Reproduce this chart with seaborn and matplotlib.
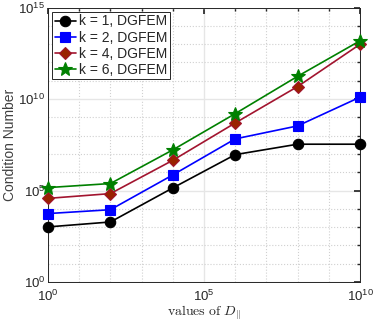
import matplotlib
matplotlib.use("Agg")
import matplotlib.pyplot as plt
import seaborn as sns
import numpy as np
import pandas as pd
from matplotlib.ticker import LogLocator, NullFormatter

D_values = [1e0, 1e2, 1e4, 1e6, 1e8, 1e10]
labels = ["k = 1, DGFEM", "k = 2, DGFEM", "k = 4, DGFEM", "k = 6, DGFEM"]
log_k1 = [3.01, 3.28, 5.14, 6.96, 7.53, 7.53]
log_k2 = [3.74, 3.95, 5.85, 7.82, 8.53, 10.10]
log_k4 = [4.57, 4.83, 6.65, 8.69, 10.68, 12.99]
log_k6 = [5.16, 5.38, 7.22, 9.20, 11.24, 13.18]
series = [log_k1, log_k2, log_k4, log_k6]

sns.set_theme(style="white")
plt.rcParams['font.family'] = ['Liberation Sans', 'DejaVu Sans']
plt.rcParams['mathtext.fontset'] = 'cm'

fig = plt.figure(figsize=(3.74, 3.24), dpi=100)
ax = fig.add_axes([48/374, 1 - 282/324, 312/374, 274.5/324])

line_colors = ["black", "blue", "#A2142F", "green"]
face_colors = ["black", "blue", "#992200", "green"]
markers = ["o", "s", "D", "*"]
msizes = [7.5, 6.5, 6.5, 10]

for lab, vals, lc, fc, m, ms in zip(labels, series, line_colors, face_colors, markers, msizes):
    df = pd.DataFrame({"D": D_values, "cond": [10 ** v for v in vals]})
    sns.lineplot(data=df, x="D", y="cond", ax=ax, color=lc, marker=m,
                 markersize=ms, markerfacecolor=fc, markeredgecolor=lc,
                 markeredgewidth=0.8, linewidth=1.2, label=lab, clip_on=False,
                 zorder=3)

ax.set_xscale("log")
ax.set_yscale("log")
ax.set_xlim(1e0, 1e10)
ax.set_ylim(1e0, 1e15)
ax.set_xticks([1e0, 1e5, 1e10])
ax.set_yticks([1e0, 1e5, 1e10, 1e15])
ax.xaxis.set_minor_formatter(NullFormatter())
ax.yaxis.set_minor_formatter(NullFormatter())
ax.set_xticks([10.0 ** i for i in range(11) if i % 5], minor=True)
ax.set_yticks([10.0 ** i for i in range(16) if i % 5], minor=True)
ax.xaxis.set_minor_formatter(NullFormatter())
ax.yaxis.set_minor_formatter(NullFormatter())

ax.grid(True, which="major", color="#e6e6e6", linestyle="-", linewidth=1.0)
ax.grid(True, which="minor", color="#d0d0d0", linestyle=":", linewidth=0.8)
ax.set_axisbelow(True)

for s in ax.spines.values():
    s.set_visible(True)
    s.set_color("#262626")
    s.set_linewidth(0.7)
ax.tick_params(which="both", direction="in", top=True, right=True, colors="#262626",
               labelsize=9.5)
ax.tick_params(which="major", length=4)
ax.tick_params(which="minor", length=2.5)
ax.tick_params(axis="x", pad=5)
ax.tick_params(axis="y", pad=2)

ax.set_xlabel(r"$\mathrm{values\ of\ }D_{\|}$", fontsize=10, color="#262626", labelpad=0)
ax.set_ylabel("Condition Number", fontsize=10, color="#404040", labelpad=1)

leg = ax.legend(loc="upper left", fontsize=10, frameon=True, fancybox=False,
                edgecolor="#262626", framealpha=1, borderpad=0.2, labelspacing=0.15,
                handlelength=1.5, handletextpad=0.2, borderaxespad=0.3)
leg.get_frame().set_linewidth(0.7)

fig.savefig("out.png", dpi=100)
